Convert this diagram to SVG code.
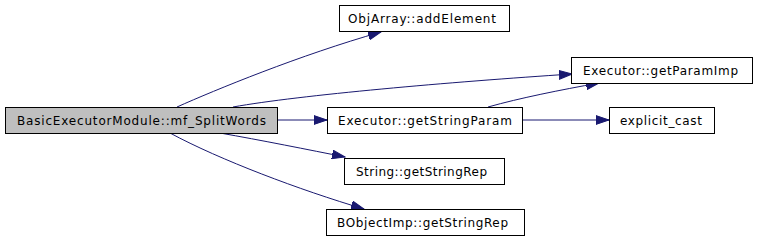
<svg xmlns="http://www.w3.org/2000/svg" width="757" height="240" viewBox="0 0 757 240">
<style>
.n rect{fill:#ffffff;stroke:#000000;stroke-width:1}
.n text{font-family:"DejaVu Sans",sans-serif;font-size:12px;fill:#000000;text-anchor:middle}
.e path{fill:none;stroke:#191970;stroke-width:1}
</style>
<defs>
<marker id="ah" markerUnits="userSpaceOnUse" markerWidth="14" markerHeight="10" viewBox="0 0 14 10" refX="13" refY="5" orient="auto">
<path d="M0,0.6 L13,5 L0,9.4 Z" fill="#191970" stroke="#191970" stroke-width="1"/>
</marker>
</defs>
<rect width="757" height="240" fill="#ffffff"/>
<g id="edges" class="e">
<path d="M177,107 C215,90 300,55 381,32" marker-end="url(#ah)"/>
<path d="M233,107 C300,95 450,82 572,74" marker-end="url(#ah)"/>
<path d="M277,120 L327,120" marker-end="url(#ah)"/>
<path d="M220,133 C260,140 310,150 345,157" marker-end="url(#ah)"/>
<path d="M170,133 C220,160 300,190 364,209" marker-end="url(#ah)"/>
<path d="M488,107 C520,98 560,90 599,83" marker-end="url(#ah)"/>
<path d="M522,120 L609,120" marker-end="url(#ah)"/>
</g>
<g id="main" class="n"><rect x="5.5" y="107.5" width="272" height="26" style="fill:#bfbfbf"/><text x="141.5" y="124.5" textLength="249" lengthAdjust="spacing">BasicExecutorModule::mf_SplitWords</text></g>
<g id="addElement" class="n"><rect x="339.5" y="5.5" width="170" height="26"/><text x="422" y="22.5" textLength="148" lengthAdjust="spacing">ObjArray::addElement</text></g>
<g id="getParamImp" class="n"><rect x="571.5" y="57.5" width="181" height="26"/><text x="660.5" y="74.5" textLength="155" lengthAdjust="spacing">Executor::getParamImp</text></g>
<g id="getStringParam" class="n"><rect x="327.5" y="107.5" width="195" height="26"/><text x="425" y="124.5" textLength="174" lengthAdjust="spacing">Executor::getStringParam</text></g>
<g id="explicit_cast" class="n"><rect x="609.5" y="107.5" width="105" height="26"/><text x="661" y="124.5" textLength="82" lengthAdjust="spacing">explicit_cast</text></g>
<g id="StringRep" class="n"><rect x="344.5" y="158.5" width="160" height="26"/><text x="421.5" y="175.5" textLength="131" lengthAdjust="spacing">String::getStringRep</text></g>
<g id="BObjectImpRep" class="n"><rect x="326.5" y="209.5" width="198" height="26"/><text x="422.5" y="226.5" textLength="171" lengthAdjust="spacing">BObjectImp::getStringRep</text></g>
</svg>
